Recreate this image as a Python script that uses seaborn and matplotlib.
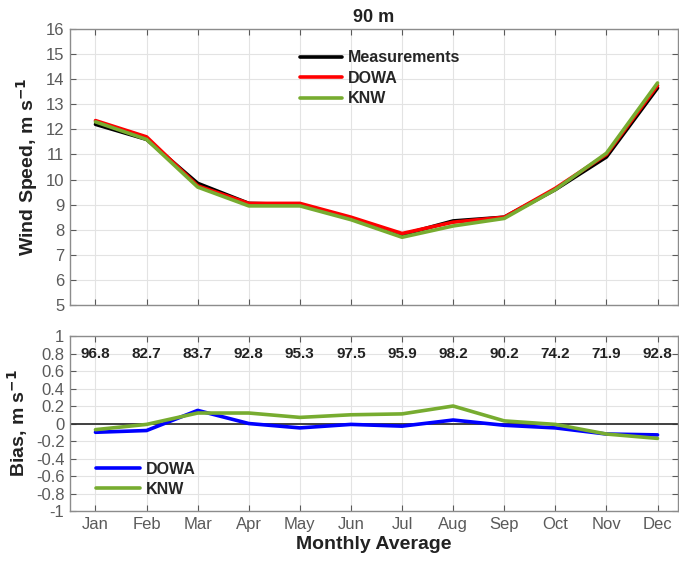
import matplotlib
matplotlib.use("Agg")
import matplotlib.pyplot as plt
import numpy as np
import pandas as pd
import seaborn as sns

months = ["Jan", "Feb", "Mar", "Apr", "May", "Jun", "Jul", "Aug", "Sep", "Oct", "Nov", "Dec"]
meas = [12.2, 11.6, 9.85, 9.05, 9.0, 8.45, 7.8, 8.35, 8.5, 9.6, 10.9, 13.65]
dowa = [12.35, 11.7, 9.75, 9.05, 9.05, 8.5, 7.85, 8.3, 8.5, 9.65, 11.0, 13.75]
knw = [12.3, 11.6, 9.7, 8.95, 8.95, 8.4, 7.7, 8.15, 8.45, 9.6, 11.05, 13.85]
bias_dowa = [-0.1, -0.08, 0.15, 0.0, -0.05, -0.01, -0.03, 0.04, -0.02, -0.05, -0.12, -0.13]
bias_knw = [-0.07, -0.01, 0.12, 0.12, 0.07, 0.1, 0.11, 0.2, 0.03, -0.01, -0.12, -0.17]
availability = ["96.8", "82.7", "83.7", "92.8", "95.3", "97.5", "95.9", "98.2", "90.2", "74.2", "71.9", "92.8"]

x = np.arange(1, 13)
ws = pd.DataFrame({"month": np.tile(x, 3),
                   "speed": meas + dowa + knw,
                   "source": ["Measurements"] * 12 + ["DOWA"] * 12 + ["KNW"] * 12})
bias = pd.DataFrame({"month": np.tile(x, 2),
                     "bias": bias_dowa + bias_knw,
                     "source": ["DOWA"] * 12 + ["KNW"] * 12})

sns.set_theme(style="whitegrid")
plt.rcParams["font.family"] = ["Liberation Sans", "DejaVu Sans"]

grey = "#5a5a5a"
green = "#77ac30"
dark = "#222222"

fig = plt.figure(figsize=(6.79, 5.62), dpi=100)
ax1 = fig.add_axes([0.103, 0.4573, 0.8955, 0.4911])
ax2 = fig.add_axes([0.103, 0.0907, 0.8955, 0.3114])

sns.lineplot(data=ws, x="month", y="speed", hue="source", ax=ax1,
             palette={"Measurements": "black", "DOWA": "#ff0000", "KNW": green},
             linewidth=2.6)
sns.lineplot(data=bias, x="month", y="bias", hue="source", ax=ax2,
             palette={"DOWA": "#0000ff", "KNW": green}, linewidth=2.6)
ax2.axhline(0, color="#333333", linewidth=1.3, zorder=1)

# data availability (%) per month
for i, t in enumerate(availability):
    ax2.text(x[i], 0.8, t, ha="center", va="center", fontsize=11, fontweight="bold", color=dark)

for ax in (ax1, ax2):
    ax.set_facecolor("white")
    ax.set_xlim(0.5, 12.4)
    ax.set_xticks(x)
    ax.grid(True, color="#e3e3e3", linewidth=0.8)
    ax.tick_params(direction="in", length=4, color=grey, labelcolor=grey, labelsize=12,
                   top=True, right=True, bottom=True, left=True, width=0.8, pad=4)
    for s in ax.spines.values():
        s.set_color("#8c8c8c")
        s.set_linewidth(1.0)

ax1.set_ylim(5, 16)
ax1.set_yticks(range(5, 17))
ax1.set_xticklabels([])
ax1.set_xlabel("")
ax1.set_ylabel("Wind Speed, m s$^{\\mathbf{-1}}$", fontsize=14, fontweight="bold", color=dark, labelpad=4)
ax1.set_title("90 m", fontsize=13, fontweight="bold", color=dark, pad=5)
ax1.legend(loc="upper left", bbox_to_anchor=(0.355, 0.975), frameon=False, handlelength=2.6,
           prop={"weight": "bold", "size": 11.5}, labelspacing=0.35, handletextpad=0.4)

ax2.set_ylim(-1, 1)
ax2.set_yticks(np.round(np.arange(-1, 1.01, 0.2), 1))
ax2.set_yticklabels(["-1", "-0.8", "-0.6", "-0.4", "-0.2", "0", "0.2", "0.4", "0.6", "0.8", "1"])
ax2.set_xticklabels(months)
ax2.set_xlabel("Monthly Average", fontsize=14, fontweight="bold", color=dark, labelpad=3)
ax2.set_ylabel("Bias, m s$^{\\mathbf{-1}}$", fontsize=14, fontweight="bold", color=dark, labelpad=4)
ax2.legend(loc="lower left", bbox_to_anchor=(0.02, 0.0), frameon=False, handlelength=2.7,
           prop={"weight": "bold", "size": 11.5}, labelspacing=0.3, handletextpad=0.4)

fig.savefig("out.png", dpi=100, facecolor="white")
